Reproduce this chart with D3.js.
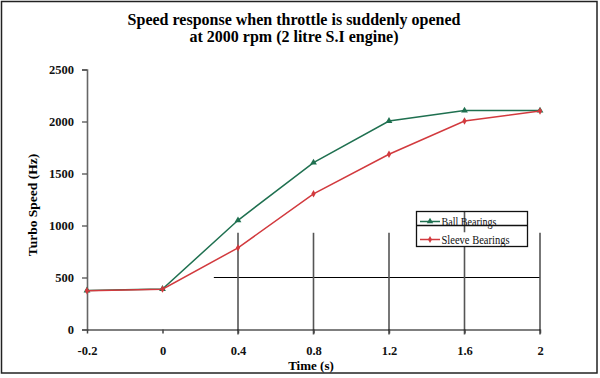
<!DOCTYPE html>
<html><head><meta charset="utf-8">
<script src="https://cdn.jsdelivr.net/npm/d3@7/dist/d3.min.js"></script>
<style>body{margin:0;background:#fff}svg{display:block}text{font-family:"Liberation Serif","Times New Roman",serif}</style>
</head><body><svg id="c" width="600" height="378"></svg>
<script>
const categories = ["-0.2","0","0.4","0.8","1.2","1.6","2"];
const ballBearings = [375, 390, 1050, 1605, 2005, 2105, 2105];
const sleeveBearings = [372, 388, 785, 1305, 1685, 2005, 2100];
const yTicks = [0, 500, 1000, 1500, 2000, 2500];
const titleLines = ["Speed response when throttle is suddenly opened", "at 2000 rpm (2 litre S.I engine)"];
const seriesNames = ["Ball Bearings", "Sleeve Bearings"];
const colors = ["#1f7050", "#d23a3e"];

const svg = d3.select("#c");
const x = d3.scalePoint().domain(categories).range([87, 540]);
const y = d3.scaleLinear().domain([0, 2500]).range([329.5, 69.5]);

// frame
svg.append("rect").attr("x",1.5).attr("y",1.5).attr("width",595.5).attr("height",371.5)
  .attr("fill","none").attr("stroke","#222").attr("stroke-width",1.5);

// title
svg.append("text").attr("x",294).attr("y",25).attr("text-anchor","middle")
  .attr("font-weight","bold").attr("font-size",16).text(titleLines[0]);
svg.append("text").attr("x",294).attr("y",42).attr("text-anchor","middle")
  .attr("font-weight","bold").attr("font-size",16).text(titleLines[1]);

// overlay decorative lines (as in the reference)
const step = x.step();
const ov = svg.append("g");
ov.append("line").attr("x1",x("0.4")-step*0.32).attr("x2",x("2"))
  .attr("y1",y(500)).attr("y2",y(500)).attr("stroke","#000").attr("stroke-width",1.2);
["0.4","0.8","1.2","2"].forEach(c=>{
  ov.append("line").attr("x1",x(c)).attr("x2",x(c)).attr("y1",y(930)).attr("y2",y(0)+5)
    .attr("stroke","#555").attr("stroke-width",1.6);
});
ov.append("line").attr("x1",x("1.6")).attr("x2",x("1.6")).attr("y1",y(1140)).attr("y2",y(935))
  .attr("stroke","#555").attr("stroke-width",1.6);
ov.append("line").attr("x1",x("1.6")).attr("x2",x("1.6")).attr("y1",y(795)).attr("y2",y(0)+5)
  .attr("stroke","#555").attr("stroke-width",1.6);

// y axis
const ya = svg.append("g").attr("transform","translate(87,0)")
  .call(d3.axisLeft(y).tickValues(yTicks).tickSize(5).tickPadding(8).tickFormat(d3.format("d")));
ya.select(".domain").attr("stroke","#666").attr("stroke-width",1.6);
ya.selectAll(".tick line").attr("stroke","#444").attr("stroke-width",1.2);
ya.selectAll(".tick text").attr("font-family","Liberation Serif, serif").attr("font-weight","bold")
  .attr("font-size",12.5).attr("fill","#111");

// x axis
const xa = svg.append("g").attr("transform",`translate(0,${y(0)})`)
  .call(d3.axisBottom(x).tickSize(4).tickPadding(13).tickSizeOuter(0));
xa.select(".domain").attr("stroke","#000").attr("stroke-width",1.2);
xa.selectAll(".tick line").attr("stroke","#444").attr("stroke-width",1.5);
xa.selectAll(".tick text").attr("font-family","Liberation Serif, serif").attr("font-weight","bold")
  .attr("font-size",12.5).attr("fill","#111");

// axis titles
svg.append("text").attr("x",311).attr("y",370).attr("text-anchor","middle")
  .attr("font-weight","bold").attr("font-size",13).text("Time (s)");
svg.append("text").attr("transform","translate(37,205) rotate(-90)").attr("text-anchor","middle")
  .attr("font-weight","bold").attr("font-size",13.5).text("Turbo Speed (Hz)");

// series
const line = d3.line().x((d,i)=>x(categories[i])).y(d=>y(d));
const series = [ballBearings, sleeveBearings];
series.forEach((s,k)=>{
  svg.append("path").datum(s).attr("d",line).attr("fill","none")
    .attr("stroke",colors[k]).attr("stroke-width",1.5);
  const sym = k===0 ? d3.symbolTriangle : d3.symbolDiamond;
  svg.append("g").selectAll("path").data(s).join("path")
    .attr("transform",(d,i)=>`translate(${x(categories[i])},${y(d)})`)
    .attr("d",d3.symbol(sym, k===0?20:16)).attr("fill",colors[k]);
});

// legend
const lg = svg.append("g");
lg.append("rect").attr("x",416.5).attr("y",211.5).attr("width",111).attr("height",35)
  .attr("fill","none").attr("stroke","#111").attr("stroke-width",1.3);
lg.append("line").attr("x1",416.5).attr("x2",527.5).attr("y1",225.5).attr("y2",225.5)
  .attr("stroke","#111").attr("stroke-width",1.3);
[221.5, 239.5].forEach((ly,k)=>{
  lg.append("line").attr("x1",420).attr("x2",440).attr("y1",ly).attr("y2",ly)
    .attr("stroke",colors[k]).attr("stroke-width",1.5);
  lg.append("path").attr("transform",`translate(430,${ly})`)
    .attr("d",d3.symbol(k===0?d3.symbolTriangle:d3.symbolDiamond, k===0?18:14)).attr("fill",colors[k]);
  lg.append("text").attr("x",441.5).attr("y",ly+4).attr("font-size",11.5).attr("fill","#111")
    .attr("textLength", k===0?55:68).attr("lengthAdjust","spacingAndGlyphs")
    .text(seriesNames[k]);
});
</script></body></html>
